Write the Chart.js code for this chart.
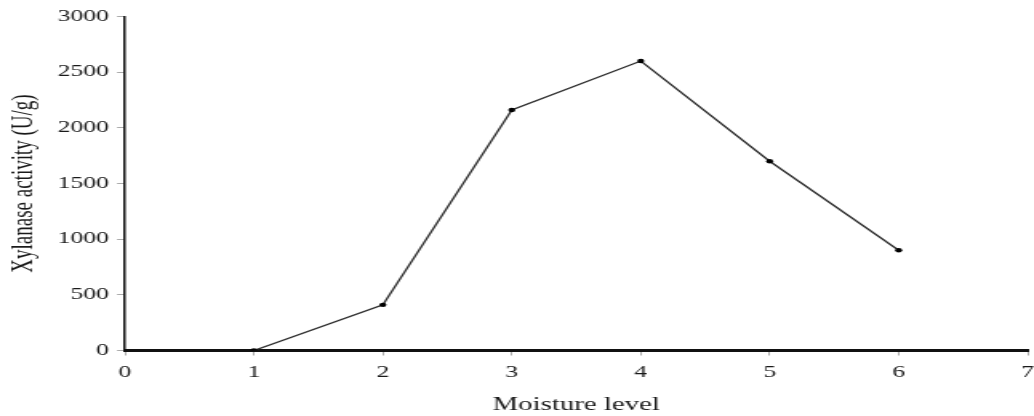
<!DOCTYPE html>
<html>
<head>
<meta charset="utf-8">
<script src="https://cdn.jsdelivr.net/npm/chart.js@4/dist/chart.umd.min.js"></script>
<style>
  html, body { margin: 0; padding: 0; background: #fff; overflow: hidden; }
  #wrap { width: 1034px; height: 416px; position: relative; }
  /* the figure is drawn narrow and widened horizontally, like the printed plot */
  #chart { display: block; transform-origin: 0 0; }
</style>
</head>
<body>
<div id="wrap"><canvas id="chart"></canvas></div>
<script>
// Xylanase activity at each moisture level
const moistureLevels = [1, 2, 3, 4, 5, 6];
const xylanaseActivity = [0, 410, 2160, 2600, 1700, 900];
const xTicks = [0, 1, 2, 3, 4, 5, 6, 7];
const yTicks = [0, 500, 1000, 1500, 2000, 2500, 3000];

const STRETCH = 1.6006;
const W = 646, H = 416;

const canvas = document.getElementById('chart');
canvas.width = W;
canvas.height = H;
canvas.style.width = W + 'px';
canvas.style.height = H + 'px';
canvas.style.transform = 'scaleX(' + STRETCH + ')';

const ink = '#1a1a1a';
const serif = '"Liberation Serif", "Times New Roman", serif';

new Chart(canvas, {
  type: 'scatter',
  data: {
    datasets: [{
      data: moistureLevels.map((m, i) => ({ x: m, y: xylanaseActivity[i] })),
      showLine: true,
      borderColor: '#2a2a2a',
      borderWidth: 1.3,
      pointRadius: 2.2,
      pointBackgroundColor: '#000',
      pointBorderColor: '#000',
      pointBorderWidth: 0,
      tension: 0
    }]
  },
  options: {
    responsive: false,
    animation: false,
    devicePixelRatio: 1,
    layout: { padding: { top: 16.5, right: 2.5, bottom: 0, left: 0 } },
    plugins: { legend: { display: false }, tooltip: { enabled: false } },
    scales: {
      x: {
        type: 'linear',
        min: xTicks[0],
        max: xTicks[xTicks.length - 1],
        afterBuildTicks: s => { s.ticks = xTicks.map(v => ({ value: v })); },
        afterFit: s => { s.height = 65.5; s.paddingLeft = 0; s.paddingRight = 0; },
        border: { display: true, color: '#111', width: 3 },
        grid: { drawOnChartArea: false, drawTicks: true, tickLength: 5, color: '#aaa', tickWidth: 1 },
        ticks: { color: ink, font: { family: serif, size: 16 }, padding: 8, maxRotation: 0,
                 callback: v => String(v) },
        title: {
          display: true, text: 'Moisture level', color: ink,
          font: { family: serif, size: 18 }, padding: { top: 0, bottom: 0 }
        }
      },
      y: {
        min: yTicks[0],
        max: yTicks[yTicks.length - 1],
        afterBuildTicks: s => { s.ticks = yTicks.map(v => ({ value: v })); },
        afterFit: s => { s.width = 78.1; s.paddingTop = 0; s.paddingBottom = 0; },
        border: { display: true, color: '#111', width: 1.5 },
        grid: { drawOnChartArea: false, drawTicks: true, tickLength: 5, color: '#aaa', tickWidth: 1 },
        ticks: { color: ink, font: { family: serif, size: 16 }, padding: 5,
                 callback: v => String(v) },
        title: {
          display: true, text: 'Xylanase activity (U/g)', color: ink,
          font: { family: serif, size: 19 }, padding: { top: 4, bottom: 0 }
        }
      }
    }
  }
});
</script>
</body>
</html>
